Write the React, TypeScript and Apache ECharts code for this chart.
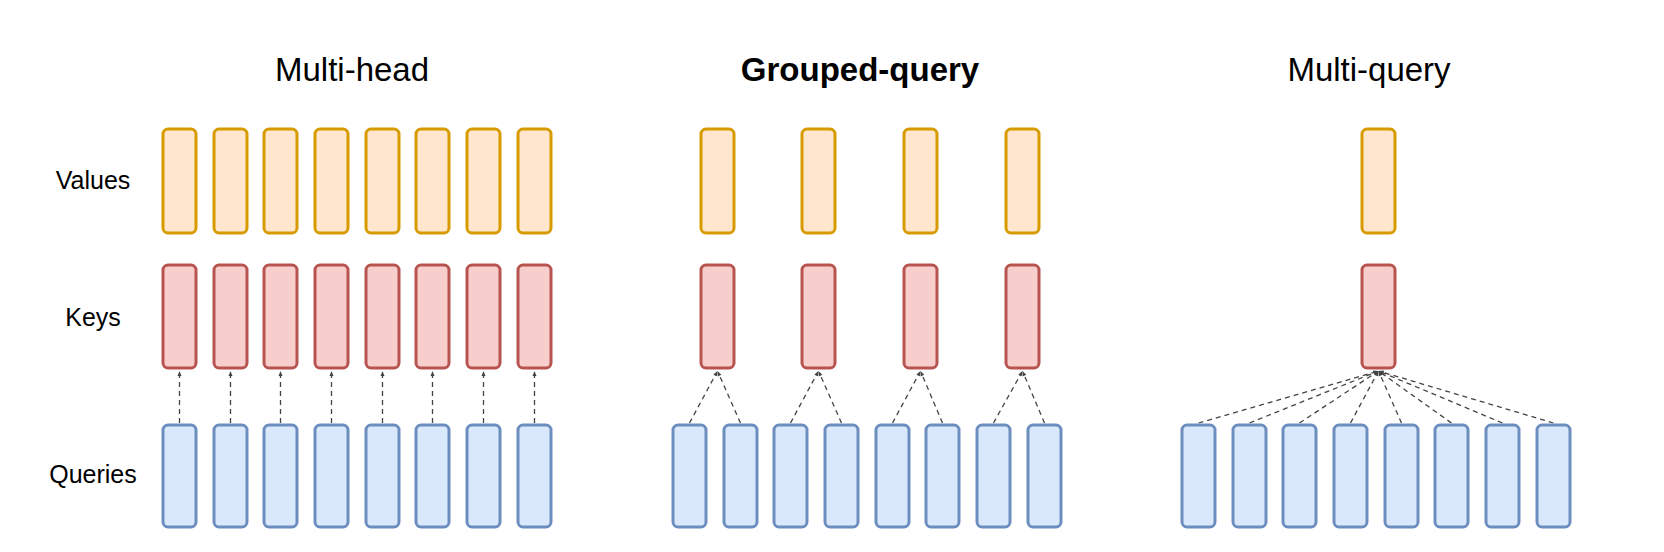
import { useEffect, useRef } from "react"
import * as echarts from "echarts"

// panel titles and row labels
const titles = ["Multi-head", "Grouped-query", "Multi-query"]
const titleX = [352, 860, 1369]
const rowLabels = ["Values", "Keys", "Queries"]
const rowLabelY = [180, 317, 474]

// left edge of each query head per panel (8 heads)
const queryX = [
  [163, 214, 264, 315, 366, 416, 467, 518],
  [673, 724, 774, 825, 876, 926, 977, 1028],
  [1182, 1233, 1283, 1334, 1385, 1435, 1486, 1537],
]
// left edge of key/value heads per panel
const kvX = [
  [163, 214, 264, 315, 366, 416, 467, 518],
  [701, 802, 904, 1006],
  [1362],
]
// rows: top and bottom of the boxes
const rowTop = [129, 265, 425]
const rowBottom = [233, 368, 527]
const boxW = 33

const fills = ["#ffe6cc", "#f8cecc", "#dae8fc"]
const strokes = ["#d79b00", "#b85450", "#6c8ebf"]

export default function App() {
  const ref = useRef<HTMLDivElement>(null)

  useEffect(() => {
    if (!ref.current) return
    const chart = echarts.init(ref.current, null, { renderer: "svg" })

    // boxes: [x, top, bottom, row]
    const boxes: number[][] = []
    kvX.forEach(xs => xs.forEach(x => {
      boxes.push([x, rowTop[0], rowBottom[0], 0])
      boxes.push([x, rowTop[1], rowBottom[1], 1])
    }))
    queryX.forEach(xs => xs.forEach(x => boxes.push([x, rowTop[2], rowBottom[2], 2])))

    // connectors: [x1, y1 (query top), x2, y2 (key bottom)]
    const links: number[][] = []
    queryX.forEach((qs, p) => {
      const ks = kvX[p]
      const group = qs.length / ks.length
      qs.forEach((q, i) => {
        const k = ks[Math.floor(i / group)]
        links.push([q + boxW / 2, rowTop[2] - 2, k + boxW / 2, rowBottom[1] + 3])
      })
    })

    chart.setOption({
      animation: false,
      grid: { left: 0, right: 0, top: 0, bottom: 0 },
      xAxis: { type: "value", min: 0, max: 1664, show: false },
      yAxis: { type: "value", min: 0, max: 552, inverse: true, show: false },
      graphic: [
        ...titles.map((t, i) => ({
          type: "text", x: titleX[i], y: 69,
          style: {
            text: t, fontSize: 33, fontFamily: "Liberation Sans, Arial, sans-serif",
            fontWeight: i === 1 ? "bold" : "normal", fill: "#000",
            align: "center", verticalAlign: "middle",
          },
        })),
        ...rowLabels.map((t, i) => ({
          type: "text", x: 93, y: rowLabelY[i],
          style: {
            text: t, fontSize: 25, fontFamily: "Liberation Sans, Arial, sans-serif",
            fill: "#000", align: "center", verticalAlign: "middle",
          },
        })),
      ],
      series: [
        {
          type: "custom",
          data: links,
          renderItem: (params: any, api: any) => {
            const a = api.coord([api.value(0), api.value(1)])
            const b = api.coord([api.value(2), api.value(3)])
            const dx = b[0] - a[0], dy = b[1] - a[1]
            const len = Math.hypot(dx, dy)
            const ux = dx / len, uy = dy / len
            const s = 5
            return {
              type: "group",
              children: [
                {
                  type: "line",
                  shape: { x1: a[0], y1: a[1], x2: b[0] - ux * 3, y2: b[1] - uy * 3 },
                  style: { stroke: "#444", lineWidth: 1.3, lineDash: [5, 4] },
                },
                {
                  type: "polygon",
                  shape: {
                    points: [
                      [b[0], b[1]],
                      [b[0] - ux * s - uy * 2, b[1] - uy * s + ux * 2],
                      [b[0] - ux * s + uy * 2, b[1] - uy * s - ux * 2],
                    ],
                  },
                  style: { fill: "#444" },
                },
              ],
            }
          },
        },
        {
          type: "custom",
          data: boxes,
          renderItem: (params: any, api: any) => {
            const p1 = api.coord([api.value(0), api.value(1)])
            const p2 = api.coord([api.value(0) + boxW, api.value(2)])
            const row = api.value(3)
            return {
              type: "rect",
              shape: { x: p1[0], y: p1[1], width: p2[0] - p1[0], height: p2[1] - p1[1], r: 5 },
              style: { fill: fills[row], stroke: strokes[row], lineWidth: 3 },
            }
          },
        },
      ],
    })

    return () => chart.dispose()
  }, [])

  return (
    <div
      ref={ref}
      style={{ position: "absolute", left: 0, top: 0, width: 1664, height: 552, background: "#fff" }}
    />
  )
}
